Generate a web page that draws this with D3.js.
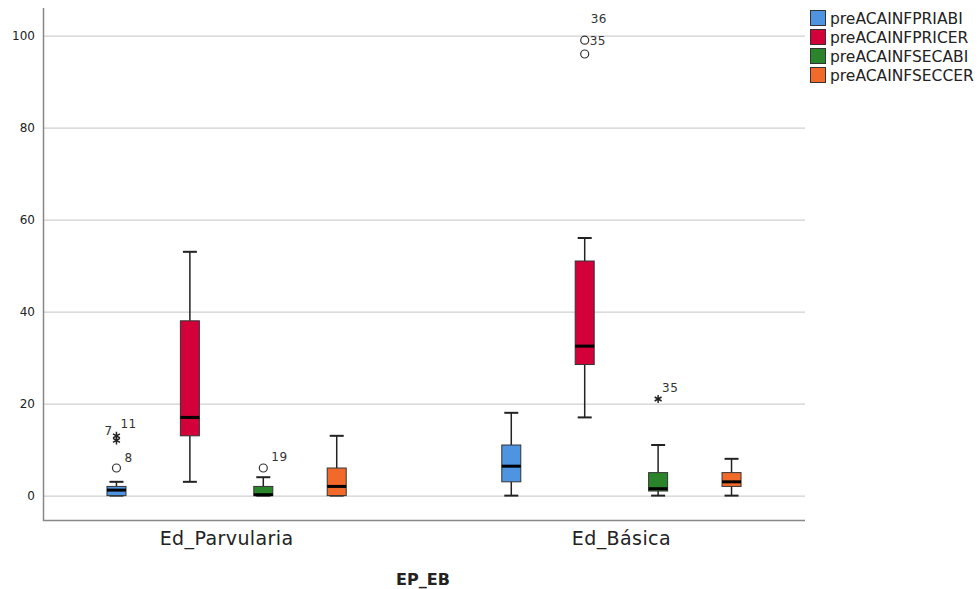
<!DOCTYPE html>
<html><head><meta charset="utf-8">
<script src="https://cdn.jsdelivr.net/npm/d3@7/dist/d3.min.js"></script>
<style>body{margin:0;background:#fff}svg{display:block}</style>
</head><body><svg id="c" width="979" height="589"></svg>
<script>
const groups = ["Ed_Parvularia", "Ed_Básica"];
const series = ["preACAINFPRIABI", "preACAINFPRICER", "preACAINFSECABI", "preACAINFSECCER"];
const colors = ["#4f94e0", "#d4003a", "#2a852a", "#f26a2a"];
// [whiskerLow, q1, median, q3, whiskerHigh] per group per series
const parvulariaStats = [[0, 0, 1.2, 2, 3], [3, 13, 17, 38, 53], [0, 0, 0.2, 2, 4], [0, 0, 2, 6, 13]];
const basicaStats = [[0, 3, 6.4, 11, 18], [17, 28.5, 32.5, 51, 56], [0, 1, 1.5, 5, 11], [0, 2, 3, 5, 8]];
// outliers: [group, series, value, type, label, labelDx, labelDy]
const outliers = [
  [0, 0, 6, "o", "8", 8, -6],
  [0, 0, 12, "*", "7", -12, -5],
  [0, 0, 13, "*", "11", 4, -8],
  [0, 2, 6, "o", "19", 8, -7],
  [1, 1, 99, "o", "35", 5, 5],
  [1, 1, 96, "o", "", 0, 0],
  [1, 2, 21, "*", "35", 4, -7]
];
const extraLabels = [[1, 1, 103.5, "36", 6, 3]];
const yTicks = [0, 20, 40, 60, 80, 100];

const svg = d3.select("#c");
const L = 43, R = 805, T = 8, B = 520;
const y = d3.scaleLinear().domain([-5.3, 106]).range([B, T]);
const xg = d3.scaleBand().domain(groups).range([L, R]).paddingInner(0.1).paddingOuter(0.015);
const xs = d3.scalePoint().domain(series).range([0, xg.bandwidth()]).padding(0.92);
const allStats = [parvulariaStats, basicaStats];

// grid
svg.append("g").selectAll("line").data(yTicks).join("line")
  .attr("x1", L).attr("x2", R).attr("y1", d => y(d) + 0.5).attr("y2", d => y(d) + 0.5)
  .attr("stroke", "#c4c4c4").attr("stroke-width", 1);

// axes
const ya = d3.axisLeft(y).tickValues(yTicks).tickSize(0).tickPadding(8);
const yg = svg.append("g").attr("transform", `translate(${L},0)`).call(ya);
yg.select(".domain").remove();
yg.selectAll("text").attr("font-family", "DejaVu Sans").attr("font-size", 12).attr("fill", "#222");
svg.append("line").attr("x1", L + 0.5).attr("x2", L + 0.5).attr("y1", T).attr("y2", B + 1)
  .attr("stroke", "#888").attr("stroke-width", 1.5);
svg.append("line").attr("x1", L).attr("x2", R).attr("y1", B + 0.5).attr("y2", B + 0.5)
  .attr("stroke", "#888").attr("stroke-width", 1.5);

const xa = d3.axisBottom(xg).tickSize(0).tickPadding(12);
const xgG = svg.append("g").attr("transform", `translate(0,${B})`).call(xa);
xgG.select(".domain").remove();
xgG.selectAll("text").attr("font-family", "DejaVu Sans").attr("font-size", 19).attr("letter-spacing", 0.4).attr("fill", "#222");

svg.append("text").attr("x", 423).attr("y", 585).attr("text-anchor", "middle")
  .attr("font-family", "DejaVu Sans").attr("font-size", 16).attr("font-weight", "bold").attr("fill", "#222")
  .text("EP_EB");

const bw = 19, cap = 14;
function cx(gi, si) { return xg(groups[gi]) + xs(series[si]); }

groups.forEach((g, gi) => {
  series.forEach((s, si) => {
    const [lo, q1, med, q3, hi] = allStats[gi][si];
    const c = cx(gi, si);
    const gG = svg.append("g");
    gG.append("line").attr("x1", c).attr("x2", c).attr("y1", y(hi)).attr("y2", y(q3)).attr("stroke", "#222").attr("stroke-width", 1.5);
    gG.append("line").attr("x1", c).attr("x2", c).attr("y1", y(q1)).attr("y2", y(lo)).attr("stroke", "#222").attr("stroke-width", 1.5);
    gG.append("line").attr("x1", c - cap / 2).attr("x2", c + cap / 2).attr("y1", y(hi)).attr("y2", y(hi)).attr("stroke", "#222").attr("stroke-width", 2);
    gG.append("line").attr("x1", c - cap / 2).attr("x2", c + cap / 2).attr("y1", y(lo)).attr("y2", y(lo)).attr("stroke", "#222").attr("stroke-width", 2);
    gG.append("rect").attr("x", c - bw / 2).attr("width", bw).attr("y", y(q3)).attr("height", Math.max(1, y(q1) - y(q3)))
      .attr("fill", colors[si]).attr("stroke", "#333").attr("stroke-width", 1);
    gG.append("line").attr("x1", c - bw / 2).attr("x2", c + bw / 2).attr("y1", y(med)).attr("y2", y(med)).attr("stroke", "#000").attr("stroke-width", 3);
  });
});

const starPath = (() => {
  const r = 4, p = d3.path();
  for (let k = 0; k < 3; k++) {
    const a = Math.PI / 2 + k * Math.PI / 3;
    p.moveTo(r * Math.cos(a), r * Math.sin(a));
    p.lineTo(-r * Math.cos(a), -r * Math.sin(a));
  }
  return p.toString();
})();

outliers.forEach(([gi, si, v, t, lab, dx, dy]) => {
  const c = cx(gi, si), py = y(v);
  if (t === "o") {
    svg.append("circle").attr("cx", c).attr("cy", py).attr("r", 4).attr("fill", "none").attr("stroke", "#333").attr("stroke-width", 1.2);
  } else {
    svg.append("path").attr("d", starPath).attr("transform", `translate(${c},${py})`).attr("stroke", "#222").attr("stroke-width", 1.5).attr("fill", "none");
  }
  if (lab) svg.append("text").attr("x", c + dx).attr("y", py + dy).attr("font-family", "DejaVu Sans").attr("font-size", 12).attr("letter-spacing", 0.5).attr("fill", "#333").text(lab);
});
extraLabels.forEach(([gi, si, v, lab, dx, dy]) => {
  svg.append("text").attr("x", cx(gi, si) + dx).attr("y", y(v) + dy).attr("font-family", "DejaVu Sans").attr("font-size", 12).attr("letter-spacing", 0.5).attr("fill", "#333").text(lab);
});

// legend
const lg = svg.append("g").attr("transform", "translate(810,10)");
series.forEach((s, i) => {
  const r = lg.append("g").attr("transform", `translate(0,${i * 19})`);
  r.append("rect").attr("x", 0.5).attr("y", 0.5).attr("width", 15).attr("height", 15).attr("fill", colors[i]).attr("stroke", "#333").attr("stroke-width", 1);
  r.append("text").attr("x", 20).attr("y", 13.5).attr("font-family", "DejaVu Sans").attr("font-size", 15.5).attr("fill", "#222").text(s);
});
</script></body></html>
